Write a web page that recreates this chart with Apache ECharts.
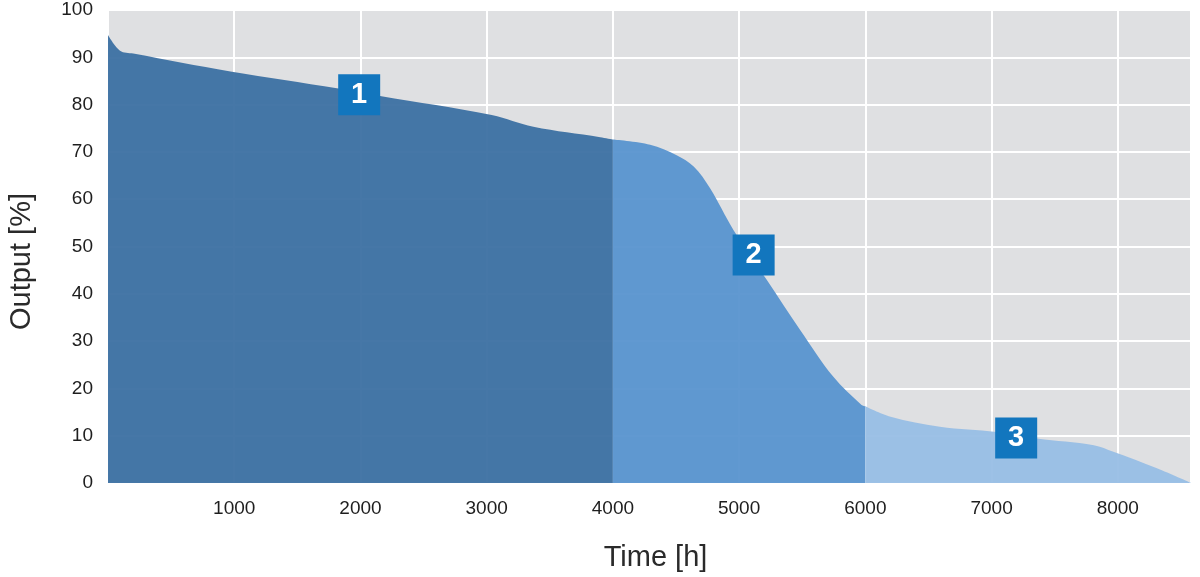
<!DOCTYPE html>
<html>
<head>
<meta charset="utf-8">
<title>Output over time</title>
<script src="https://cdn.jsdelivr.net/npm/echarts@6/dist/echarts.min.js"></script>
<style>
  html, body { margin: 0; padding: 0; background: #fff; }
  #chart { width: 1200px; height: 577px; }
</style>
</head>
<body>
<div id="chart"></div>
<script>
// hours / output %
var stage1 = [
  [0, 94.7], [95, 91.4], [200, 90.8], [970, 87.0], [1825, 83.4], [2155, 81.8],
  [3040, 77.8], [3370, 75.3], [3900, 73.1], [4000, 72.6]
];
var stage2 = [
  [4000, 72.6], [4295, 71.5], [4505, 69.3], [4640, 66.9], [4770, 62.3], [4955, 53.5],
  [5220, 42.9], [5485, 32.3], [5745, 22.5], [5970, 16.5], [6000, 16.2]
];
var stage3 = [
  [6000, 16.2], [6200, 14.0], [6590, 11.9], [7040, 10.8], [7360, 9.4], [7810, 8.0],
  [7965, 6.6], [8310, 3.1], [8580, 0]
];
var badges = [
  { name: '1', coord: [1990, 82.1] },
  { name: '2', coord: [5115, 48.2] },
  { name: '3', coord: [7195, 9.5] }
];
var xMax = 8580;

var chartDom = document.getElementById('chart');
var myChart = echarts.init(chartDom);
var option;

function badge(b) {
  return {
    symbol: 'rect',
    symbolSize: [42, 41],
    itemStyle: { color: '#1276be' },
    label: {
      show: true,
      formatter: b.name,
      color: '#fff',
      fontSize: 29,
      fontWeight: 'bold',
      fontFamily: 'Liberation Sans'
    },
    data: [{ name: b.name, coord: b.coord }]
  };
}

function stage(data, color, b) {
  return {
    type: 'line',
    data: data,
    smooth: 0.35,
    showSymbol: false,
    silent: true,
    lineStyle: { width: 0 },
    areaStyle: { color: color, opacity: 0.94 },
    markPoint: badge(b)
  };
}

option = {
  animation: false,
  textStyle: { fontFamily: 'Liberation Sans' },
  grid: {
    left: 108,
    right: 9,
    top: 10,
    bottom: 94,
    outerBoundsMode: 'none',
    containLabel: false,
    show: true,
    backgroundColor: '#dfe0e2',
    borderWidth: 0
  },
  xAxis: {
    type: 'value',
    min: 0,
    max: xMax,
    interval: 1000,
    name: 'Time [h]',
    nameLocation: 'middle',
    nameGap: 60,
    nameTextStyle: { fontSize: 29, color: '#2a2a2a', padding: [0, 0, 0, 12] },
    axisLine: { show: false },
    axisTick: { show: false },
    axisLabel: {
      fontSize: 19,
      color: '#1e1e1e',
      margin: 16,
      formatter: function (v) {
        return v > 0 && v % 1000 === 0 ? String(v) : '';
      }
    },
    splitLine: { lineStyle: { color: '#ffffff', width: 2 } }
  },
  yAxis: {
    type: 'value',
    min: 0,
    max: 100,
    interval: 10,
    name: 'Output [%]',
    nameLocation: 'middle',
    nameGap: 72,
    nameTextStyle: { fontSize: 29, color: '#2a2a2a', padding: [0, 30, 0, 0] },
    axisLine: { show: false },
    axisTick: { show: false },
    axisLabel: { fontSize: 19, color: '#1e1e1e', margin: 15 },
    splitLine: { lineStyle: { color: '#ffffff', width: 2 } }
  },
  series: [
    stage(stage1, 'rgb(58,110,161)', badges[0]),
    stage(stage2, 'rgb(87,147,206)', badges[1]),
    stage(stage3, 'rgb(151,189,228)', badges[2])
  ]
};

option && myChart.setOption(option);
</script>
</body>
</html>
